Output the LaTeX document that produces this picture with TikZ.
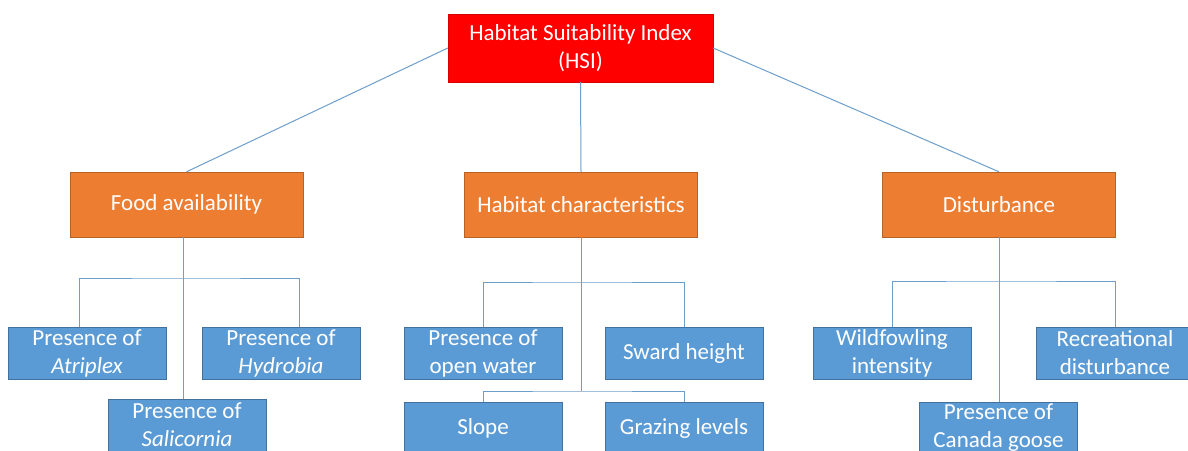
\documentclass[tikz,border=0pt]{standalone}
\usepackage{fontspec}
\setmainfont{Carlito}
\definecolor{hsired}{HTML}{FF0000}
\definecolor{factorange}{HTML}{ED7D31}
\definecolor{orangeline}{HTML}{B6632A}
\definecolor{leafblue}{HTML}{5B9BD5}
\definecolor{blueline}{HTML}{41719C}
\definecolor{linkblue}{HTML}{6E9FCB}
\begin{document}
\begin{tikzpicture}[x=1pt,y=-1pt,font=\fontsize{23}{28}\selectfont] % HSI tree
\tikzstyle{hsibox} = [rectangle, fill=hsired, draw=hsired!85!black, text=white, minimum width=265pt, minimum height=68pt, align=center, inner sep=0pt] % index box
\tikzstyle{factor} = [rectangle, fill=factorange, draw=orangeline, text=white, minimum width=233pt, minimum height=65pt, inner sep=0pt] % factor box
\tikzstyle{leaf} = [rectangle, fill=leafblue, draw=blueline, text=white, minimum width=158pt, minimum height=52pt, align=center, inner sep=0pt] % variable box
\tikzstyle{link} = [draw=linkblue, line width=1pt] % connector
\useasboundingbox[fill=white] (0,0) rectangle (1188,450);
\clip (0,0) rectangle (1188,450);
% top
\node[hsibox] (hsi) at (580.5,48) {Habitat Suitability Index\\(HSI)};
% factors
\node[factor] (food) at (186.5,204.5) {Food availability};
\node[factor] (habitat) at (581,204.5) {Habitat characteristics};
\node[factor] (dist) at (999,204.5) {Disturbance};
% food
\node[leaf] (atriplex) at (87,353) {Presence of\\\textit{Atriplex}};
\node[leaf] (hydrobia) at (281,353) {Presence of\\\textit{Hydrobia}};
\node[leaf] (salicornia) at (187,425) {Presence of\\\textit{Salicornia}};
% habitat
\node[leaf] (openwater) at (483,353) {Presence of\\open water};
\node[leaf] (sward) at (684,353) {Sward height};
\node[leaf] (slope) at (483,428) {Slope};
\node[leaf] (grazing) at (684,428) {Grazing levels};
% disturbance
\node[leaf] (wildfowl) at (892,353) {Wildfowling\\intensity};
\node[leaf] (recreation) at (1115,353) {Recreational\\disturbance};
\node[leaf] (canada) at (998.5,428) {Presence of\\Canada goose};
% buses
\coordinate (fbus) at (183,278);
\coordinate (hbus) at (581,282);
\coordinate (hbus2) at (581,391);
\coordinate (dbus) at (999,281);
\draw[link] (hsi.west) -- (food.north);
\draw[link] (hsi.south) -- (habitat.north);
\draw[link] (hsi.east) -- (dist.north);
\draw[link] (food.south -| fbus) -- (salicornia.north -| fbus);
\draw[link] ([xshift=-8pt]atriplex.north) |- (fbus) -| ([xshift=18pt]hydrobia.north);
\draw[link] (habitat.south) -- (hbus2);
\draw[link] (openwater.north) |- (hbus) -| (sward.north);
\draw[link] (slope.north) |- (hbus2) -| (grazing.north);
\draw[link] (dist.south) -- (canada.north -| dist.south);
\draw[link] (wildfowl.north) |- (dbus) -| (recreation.north);
\end{tikzpicture}
\end{document}
